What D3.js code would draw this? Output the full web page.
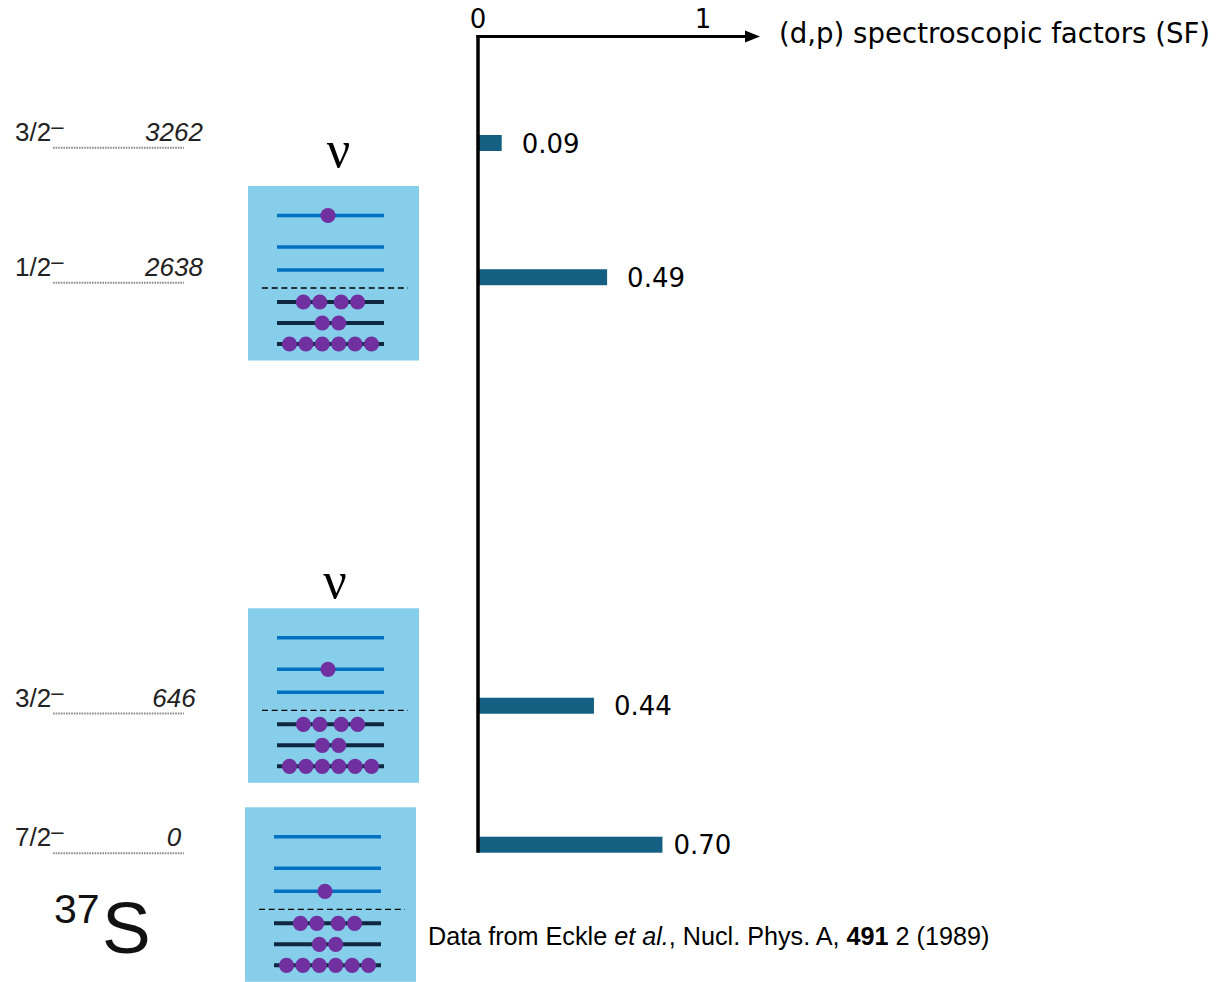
<!DOCTYPE html>
<html>
<head>
<meta charset="utf-8">
<script src="https://cdn.jsdelivr.net/npm/d3@7"></script>
<style>
  body { margin: 0; background: #fff; }
  svg { display: block; }
  .sans { font-family: "DejaVu Sans", sans-serif; fill: #000; }
  .level { font-family: "Liberation Sans", Arial, sans-serif; fill: #222; }
</style>
</head>
<body>
<div id="main"></div>
<script>
// 37S levels (keV) and their (d,p) spectroscopic factors
const levelEnergies = [0, 646, 2638, 3262];
const levelSpins = ["7/2", "3/2", "1/2", "3/2"];
const sfValues = [0.70, 0.44, 0.49, 0.09];
const sfTicks = [0, 1];

// shell model cartoon, orbitals listed bottom to top
const coreOrbitals = ["1d5/2", "2s1/2", "1d3/2"];
const coreOccupancy = [6, 2, 4];
const valenceOrbitals = ["1f7/2", "2p3/2", "2p1/2"];
const configEnergies = [0, 646, 2638];
const configOrbital = [0, 1, 2];      // where the odd neutron sits
const configLabel = ["", "\u03BD", "\u03BD"];

const w = 1217;
const h = 982;

const svg = d3.select("#main").append("svg")
    .attr("width", w)
    .attr("height", h);

// scales
const sfScale = d3.scaleLinear().domain([0, 1]).range([478, 741.5]);
const barY = d3.scaleLinear().domain([0, 3262]).range([844.7, 143]);
const levelY = d3.scaleLinear().domain([0, 3262]).range([853.3, 147.7]);

// ---- level scheme on the left ----
const levels = levelEnergies.map((e, i) => ({e: e, spin: levelSpins[i]}));

svg.selectAll(".lvl-line")
    .data(levels)
    .enter()
    .append("line")
    .attr("class", "lvl-line")
    .attr("x1", 53)
    .attr("x2", 184)
    .attr("y1", d => levelY(d.e))
    .attr("y2", d => levelY(d.e))
    .attr("stroke", "#8c8c8c")
    .attr("stroke-width", 2)
    .attr("stroke-dasharray", "1.6,1");

const spin = svg.selectAll(".spin")
    .data(levels)
    .enter()
    .append("text")
    .attr("class", "level spin")
    .attr("x", 15)
    .attr("y", d => levelY(d.e) - 7)
    .style("font-size", "26px");
spin.append("tspan").text(d => d.spin);
spin.append("tspan")
    .attr("dy", -7)
    .style("font-size", "22px")
    .text("\u2013");

svg.selectAll(".energy")
    .data(levels)
    .enter()
    .append("text")
    .attr("class", "level energy")
    .attr("x", 174)
    .attr("y", d => levelY(d.e) - 7)
    .attr("text-anchor", "middle")
    .style("font-size", "26px")
    .style("font-style", "italic")
    .text(d => d.e);

svg.append("text")
    .attr("class", "level")
    .attr("x", 54)
    .attr("y", 923)
    .style("font-size", "41px")
    .style("fill", "#111")
    .text("37");
svg.append("text")
    .attr("class", "level")
    .attr("x", 102)
    .attr("y", 953)
    .style("font-size", "73px")
    .style("fill", "#111")
    .text("S");

// ---- shell model boxes ----
const boxW = 171, boxH = 174.5;
const boxAt = {0: [245, 807.3, 0], 646: [248, 608.3, 10], 2638: [248, 186, 19.3]};
const valenceY = [84, 61, 29.5];
const coreY = [158, 137, 116];

function dotXs(n, cx) {
  const step = 16.4;
  return d3.range(n).map(i => {
    const off = (i - (n - 1) / 2) * step;
    return cx + off + (n === 4 ? Math.sign(off) * 2.5 : 0);
  });
}

configEnergies.forEach((e, k) => {
  const pos = boxAt[e];
  const g = svg.append("g")
      .attr("transform", "translate(" + pos[0] + "," + pos[1] + ")");

  g.append("rect")
      .attr("width", boxW)
      .attr("height", boxH)
      .attr("fill", "#87CEEB");

  if (configLabel[k]) {
    g.append("text")
        .attr("x", 87 + (e === 2638 ? 3.5 : 0))
        .attr("y", -pos[2])
        .attr("text-anchor", "middle")
        .style("font-family", "'Liberation Serif', 'DejaVu Serif', serif")
        .style("font-size", "52px")
        .style("fill", "#000")
        .text(configLabel[k]);
  }

  g.selectAll(".val")
      .data(valenceOrbitals)
      .enter()
      .append("line")
      .attr("x1", 29).attr("x2", 136)
      .attr("y1", (d, i) => valenceY[i])
      .attr("y2", (d, i) => valenceY[i])
      .attr("stroke", "#0070C0")
      .attr("stroke-width", 3.5);

  g.append("line")
      .attr("x1", 14).attr("x2", 160)
      .attr("y1", 102).attr("y2", 102)
      .attr("stroke", "#000")
      .attr("stroke-width", 1.3)
      .attr("stroke-dasharray", "6,3.7");

  g.selectAll(".core")
      .data(coreOrbitals)
      .enter()
      .append("line")
      .attr("x1", 29).attr("x2", 136)
      .attr("y1", (d, i) => coreY[i])
      .attr("y2", (d, i) => coreY[i])
      .attr("stroke", "#0E2841")
      .attr("stroke-width", 4);

  const dots = [];
  coreOccupancy.forEach((n, i) => {
    dotXs(n, 82.5).forEach(x => dots.push([x, coreY[i]]));
  });
  dots.push([80, valenceY[configOrbital[k]]]);

  g.selectAll("circle")
      .data(dots)
      .enter()
      .append("circle")
      .attr("cx", d => d[0])
      .attr("cy", d => d[1])
      .attr("r", 7.6)
      .attr("fill", "#7030A0");
});

// ---- spectroscopic factor bars ----
const bars = levelEnergies.map((e, i) => ({e: e, sf: sfValues[i]}));

svg.selectAll(".bar")
    .data(bars)
    .enter()
    .append("rect")
    .attr("class", "bar")
    .attr("x", sfScale(0))
    .attr("y", d => barY(d.e) - 8)
    .attr("width", d => sfScale(d.sf) - sfScale(0))
    .attr("height", 16)
    .attr("fill", "#156082");

svg.selectAll(".sf-label")
    .data(bars)
    .enter()
    .append("text")
    .attr("class", "sans sf-label")
    .attr("x", d => sfScale(d.sf) + (d.sf > 0.6 ? 11 : 20))
    .attr("y", d => barY(d.e) + 9.5)
    .style("font-size", "26px")
    .text(d => d.sf.toFixed(2));

// axes with arrow
svg.append("line")
    .attr("x1", sfScale(0)).attr("x2", sfScale(0))
    .attr("y1", 35).attr("y2", barY(0) + 8)
    .attr("stroke", "#000")
    .attr("stroke-width", 3.5);
svg.append("line")
    .attr("x1", sfScale(0) - 1.5).attr("x2", 748)
    .attr("y1", 36.5).attr("y2", 36.5)
    .attr("stroke", "#000")
    .attr("stroke-width", 3);
svg.append("path")
    .attr("d", "M745,30.5L760,36.5L745,42.5Z")
    .attr("fill", "#000");

svg.selectAll(".tick-label")
    .data(sfTicks)
    .enter()
    .append("text")
    .attr("class", "sans tick-label")
    .attr("x", d => sfScale(d) - d * 38.5)
    .attr("y", 28)
    .attr("text-anchor", "middle")
    .style("font-size", "26px")
    .text(d => d);

svg.append("text")
    .attr("class", "sans")
    .attr("x", 779)
    .attr("y", 43)
    .style("font-size", "27.6px")
    .text("(d,p) spectroscopic factors (SF)");

// reference note
const note = svg.append("text")
    .attr("x", 428)
    .attr("y", 945)
    .style("font-family", "'Liberation Sans', Arial, sans-serif")
    .style("font-size", "25.2px")
    .style("fill", "#000");
note.append("tspan").text("Data from Eckle ");
note.append("tspan").style("font-style", "italic").text("et al.");
note.append("tspan").text(", Nucl. Phys. A, ");
note.append("tspan").style("font-weight", "bold").text("491");
note.append("tspan").text(" 2 (1989)");
</script>
</body>
</html>
